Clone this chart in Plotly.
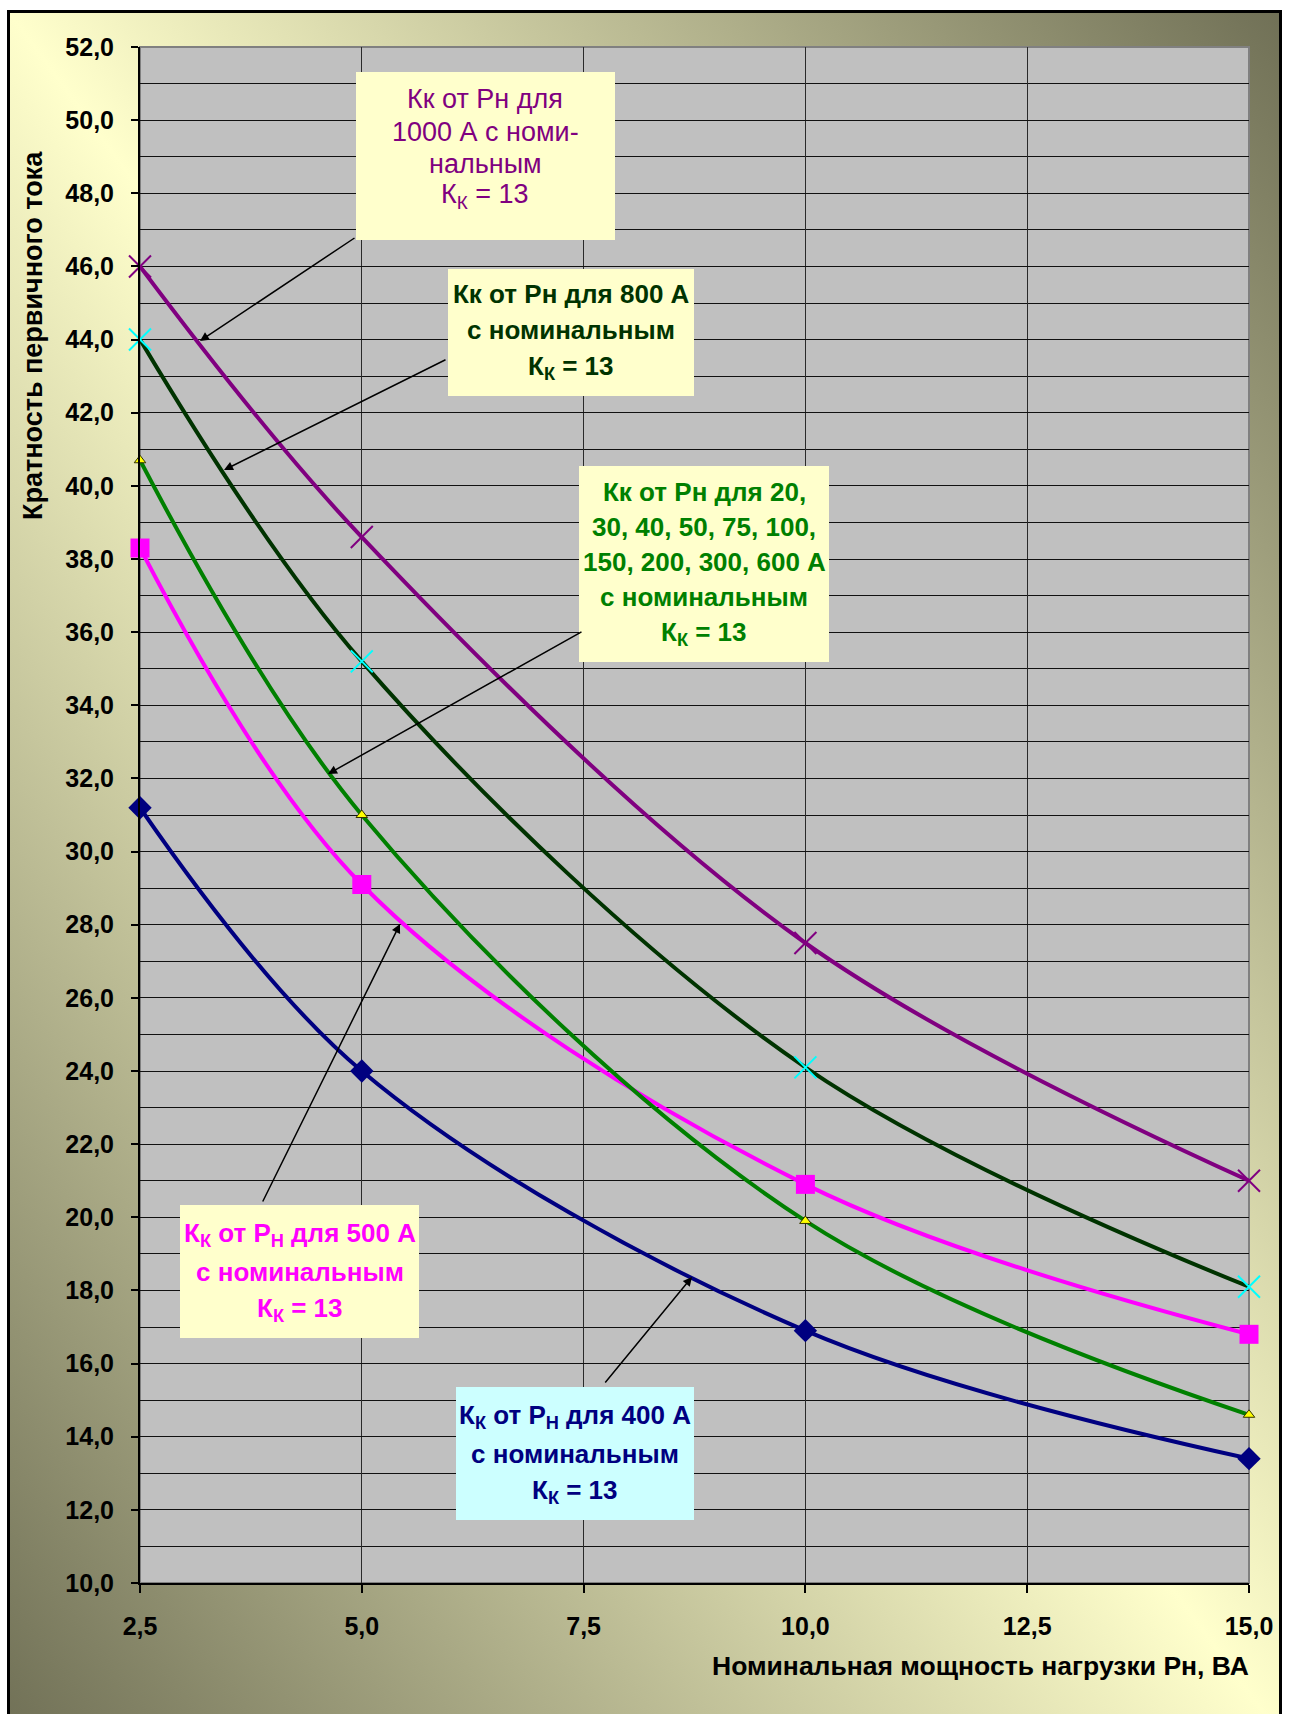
import base64
import plotly.graph_objects as go

# ---------------- data ----------------
power = [2.5, 5.0, 10.0, 15.0]
k_400 = [31.2, 24.0, 16.9, 13.4]
k_500 = [38.3, 29.1, 20.9, 16.8]
k_20_600 = [40.7, 31.0, 19.9, 14.6]
k_800 = [44.0, 35.2, 24.1, 18.1]
k_1000 = [46.0, 38.6, 27.5, 21.0]

x_tick_vals = [2.5, 5.0, 7.5, 10.0, 12.5, 15.0]
x_tick_text = ["2,5", "5,0", "7,5", "10,0", "12,5", "15,0"]
y_tick_vals = list(range(10, 53, 2))
y_tick_text = [f"{v},0" for v in y_tick_vals]
y_minor_vals = list(range(11, 52, 2))

# ---------------- geometry ----------------
W, H = 1291, 1714
L, R, T, B = 140, 42, 47, 131
PW = W - L - R
PH = H - T - B
FONT = "Liberation Sans, Arial, sans-serif"


def px(x):
    return (x - L) / PW


def py(y):
    return (H - B - y) / PH


fig = go.Figure()

series = [
    ("400 A", k_400, "#000080", dict(symbol="diamond", size=18, color="#000080")),
    ("500 A", k_500, "#FF00FF", dict(symbol="square", size=19, color="#FF00FF")),
    ("20-600 A", k_20_600, "#008000",
     dict(symbol="triangle-up", size=10, color="#FFFF00", line=dict(color="#333300", width=1))),
    ("800 A", k_800, "#003300",
     dict(symbol="x-thin", size=22, color="#00FFFF", line=dict(color="#00FFFF", width=2))),
    ("1000 A", k_1000, "#800080",
     dict(symbol="x-thin", size=22, color="#800080", line=dict(color="#800080", width=2))),
]
for name, vals, col, mk in series:
    fig.add_trace(go.Scatter(
        x=power, y=vals, name=name, mode="lines+markers",
        line=dict(color=col, width=4, shape="spline", smoothing=1.0),
        marker=mk, cliponaxis=False, showlegend=False,
    ))

# background gradient with frame
bx, by = 7, 10
bw, bh = 1275, H - by
svg = (
    f'<svg xmlns="http://www.w3.org/2000/svg" width="{bw}" height="{bh}" viewBox="0 0 {bw} {bh}">'
    '<defs><linearGradient id="g" x1="1" y1="0" x2="0" y2="1">'
    '<stop offset="0" stop-color="#707056"/>'
    '<stop offset="0.5" stop-color="#ffffcc"/>'
    '<stop offset="1" stop-color="#707056"/>'
    '</linearGradient></defs>'
    f'<rect x="1.5" y="1.5" width="{bw - 3}" height="{bh + 20}" fill="url(#g)" stroke="#000" stroke-width="3"/>'
    '</svg>'
)
src = "data:image/svg+xml;base64," + base64.b64encode(svg.encode()).decode()
fig.add_layout_image(dict(
    source=src, xref="paper", yref="paper", x=px(bx), y=py(by),
    sizex=bw / PW, sizey=bh / PH, xanchor="left", yanchor="top",
    sizing="stretch", layer="below",
))

shapes = [dict(type="rect", xref="paper", yref="paper", x0=0, x1=1, y0=0, y1=1,
               fillcolor="#C0C0C0", line=dict(width=2, color="#808080"), layer="below")]

# callout boxes: (x0, y0, x1, y1, fill, color, bold, size, lines, line_y)
boxes = [
    (356, 72, 615, 240, "#FFFFCC", "#800080", False, 27,
     ["Кк от Рн для", "1000 А с номи-", "нальным", "К<sub>К</sub> = 13"],
     [99, 132, 164, 196]),
    (448, 269, 694, 396, "#FFFFCC", "#003300", True, 26,
     ["Кк от Рн для 800 А", "с номинальным", "К<sub>К</sub> = 13"],
     [294, 330, 367]),
    (579, 466, 829, 662, "#FFFFCC", "#008000", True, 26,
     ["Кк от Рн для 20,", "30, 40, 50, 75, 100,", "150, 200, 300, 600 А",
      "с номинальным", "К<sub>К</sub> = 13"],
     [492, 527, 562, 597, 633]),
    (180, 1205, 419, 1338, "#FFFFCC", "#FF00FF", True, 26,
     ["К<sub>К</sub> от Р<sub>Н</sub> для 500 А", "с номинальным", "К<sub>К</sub> = 13"],
     [1234, 1272, 1309]),
    (456, 1387, 694, 1520, "#CCFFFF", "#000080", True, 26,
     ["К<sub>К</sub> от Р<sub>Н</sub> для 400 А", "с номинальным", "К<sub>К</sub> = 13"],
     [1416, 1454, 1491]),
]
annotations = []
for x0, y0, x1, y1, fill, col, bold, fs, lines, ly in boxes:
    shapes.append(dict(type="rect", xref="paper", yref="paper",
                       x0=px(x0), x1=px(x1), y0=py(y1), y1=py(y0),
                       fillcolor=fill, line=dict(width=0), layer="above"))
    cx = (x0 + x1) / 2
    for txt, yy in zip(lines, ly):
        annotations.append(dict(
            text=txt, xref="paper", yref="paper", x=px(cx), y=py(yy),
            xanchor="center", yanchor="middle", showarrow=False,
            font=dict(family=FONT, size=fs, color=col, weight="bold" if bold else "normal"),
        ))

# arrows: (tail_x, tail_y, head_x, head_y) in pixels
arrows = [
    (356, 237, 200, 341),
    (447, 359, 224, 470),
    (583, 631, 328, 774),
    (262, 1203, 400, 924),
    (604, 1384, 692, 1277),
]
for tx, ty, hx, hy in arrows:
    annotations.append(dict(
        text="", xref="paper", yref="paper", x=px(hx), y=py(hy),
        axref="pixel", ayref="pixel", ax=tx - hx, ay=ty - hy,
        showarrow=True, arrowhead=2, arrowsize=1.2, arrowwidth=1.5,
        arrowcolor="black", standoff=0, startstandoff=0,
    ))

# axis titles
annotations.append(dict(
    text="Кратность первичного тока", xref="paper", yref="paper",
    x=px(33), y=py(336), xanchor="center", yanchor="middle", textangle=-90,
    showarrow=False, font=dict(family=FONT, size=27, color="black", weight="bold"),
))
annotations.append(dict(
    text="Номинальная мощность нагрузки Рн, ВА", xref="paper", yref="paper",
    x=px(1251), y=py(1666), xanchor="right", yanchor="middle",
    showarrow=False, font=dict(family=FONT, size=26.5, color="black", weight="bold"),
))

fig.update_layout(
    width=W, height=H,
    margin=dict(l=L, r=R, t=T, b=B, pad=0),
    paper_bgcolor="white",
    plot_bgcolor="rgba(0,0,0,0)",
    shapes=shapes,
    annotations=annotations,
    showlegend=False,
    xaxis=dict(
        range=[2.5, 15], tickvals=x_tick_vals, ticktext=x_tick_text,
        showgrid=True, gridcolor="#2a2a2a", gridwidth=1, zeroline=False,
        showline=True, linecolor="black", linewidth=2,
        ticks="outside", ticklen=8, tickcolor="black", tickwidth=2,
        ticklabelstandoff=12,
        tickfont=dict(family=FONT, size=25, color="black", weight="bold"),
    ),
    yaxis=dict(
        range=[10, 52], tickvals=y_tick_vals, ticktext=y_tick_text,
        showgrid=True, gridcolor="#111111", gridwidth=1, zeroline=False,
        showline=True, linecolor="black", linewidth=2,
        ticks="outside", ticklen=7, tickcolor="black", tickwidth=2,
        ticklabelstandoff=12,
        tickfont=dict(family=FONT, size=25, color="black", weight="bold"),
        minor=dict(tickvals=y_minor_vals, showgrid=True, gridcolor="#111111",
                   gridwidth=1, ticks=""),
    ),
)

fig.write_html("out.html", config={"displayModeBar": False},
               post_script="document.body.style.margin='0';")
